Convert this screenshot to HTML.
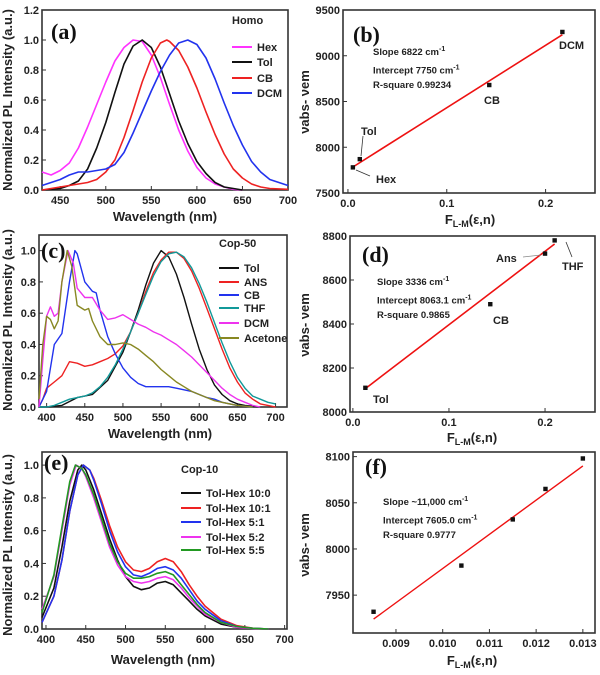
<!DOCTYPE html>
<html><head><meta charset="utf-8">
<style>
html,body{margin:0;padding:0;background:#fff;}
svg{display:block;font-family:"Liberation Sans",sans-serif;}
.t{font-size:11px;font-weight:bold;fill:#222;}
.ti{font-size:13px;font-weight:bold;fill:#222;}
.lg{font-size:11px;font-weight:bold;fill:#222;}
.an{font-size:9.5px;font-weight:bold;fill:#222;}
.pl{font-family:"Liberation Serif",serif;font-size:22px;font-weight:bold;fill:#111;}
</style></head>
<body>
<svg id="fig" width="600" height="675" viewBox="0 0 600 675"></svg>
<script>
// ---------- Panel (a) data ----------
const aSeriesNames = ["Hex","Tol","CB","DCM"];
const aColors = ["#ff33ff","#111111","#ee2222","#2233ee"];
const aHex = [[430,0.12],[440,0.10],[450,0.13],[460,0.18],[470,0.28],[480,0.42],[490,0.57],[500,0.72],[510,0.86],[520,0.95],[530,1.0],[540,0.99],[550,0.90],[560,0.75],[570,0.57],[580,0.40],[590,0.26],[600,0.15],[610,0.08],[620,0.04],[630,0.02],[640,0.005],[650,0]];
const aTol = [[430,0],[440,0.005],[450,0.01],[460,0.03],[470,0.06],[480,0.14],[490,0.28],[500,0.45],[510,0.65],[520,0.84],[530,0.96],[540,1.0],[550,0.95],[560,0.82],[570,0.64],[580,0.46],[590,0.31],[600,0.19],[610,0.11],[620,0.05],[630,0.02],[640,0.01],[650,0]];
const aCB = [[430,0],[440,0.01],[450,0.02],[460,0.03],[470,0.04],[480,0.05],[490,0.07],[500,0.12],[510,0.2],[520,0.35],[530,0.53],[540,0.72],[550,0.88],[560,0.98],[567,1.0],[570,0.99],[580,0.93],[590,0.82],[600,0.68],[610,0.52],[620,0.37],[630,0.24],[640,0.14],[650,0.08],[660,0.04],[670,0.02],[680,0.01],[700,0.005]];
const aDCM = [[430,0.03],[440,0.05],[450,0.07],[460,0.10],[470,0.12],[480,0.12],[490,0.13],[500,0.14],[510,0.17],[520,0.25],[530,0.38],[540,0.52],[550,0.66],[560,0.79],[570,0.90],[580,0.98],[590,1.0],[600,0.97],[610,0.88],[620,0.74],[630,0.58],[640,0.43],[650,0.30],[660,0.19],[670,0.12],[680,0.07],[690,0.05],[700,0.03]];
const aXTicks = [450,500,550,600,650,700];
const aYTicks = [0,0.2,0.4,0.6,0.8,1.0,1.2];

// ---------- Panel (b) data ----------
const bLabels = ["Hex","Tol","CB","DCM"];
const bX = [0.005,0.012,0.143,0.217];
const bY = [7780,7870,8680,9260];
const bFit = [7750,6822]; // intercept, slope
const bXTicks = [0.0,0.1,0.2];
const bYTicks = [7500,8000,8500,9000,9500];

// ---------- Panel (c) data ----------
const cSeriesNames = ["Tol","ANS","CB","THF","DCM","Acetone"];
const cColors = ["#111111","#ee2222","#2233ee","#119999","#ee33ee","#888822"];
const cTol = [[390,0],[400,0],[420,0.01],[440,0.06],[460,0.08],[480,0.17],[500,0.35],[510,0.48],[520,0.62],[530,0.78],[540,0.92],[550,1.0],[560,0.96],[570,0.85],[580,0.7],[590,0.53],[600,0.37],[610,0.24],[620,0.14],[630,0.08],[640,0.04],[650,0.02],[660,0.01],[680,0]];
const cANS = [[390,0],[395,0.05],[400,0.12],[410,0.16],[420,0.2],[430,0.29],[440,0.28],[450,0.26],[460,0.27],[470,0.29],[480,0.31],[490,0.34],[500,0.39],[510,0.48],[520,0.6],[530,0.74],[540,0.86],[550,0.94],[560,0.99],[570,0.99],[580,0.95],[590,0.87],[600,0.76],[610,0.63],[620,0.5],[630,0.37],[640,0.25],[650,0.16],[660,0.09],[670,0.05],[680,0.02],[690,0.01],[700,0]];
const cCB = [[390,0],[400,0.1],[410,0.4],[420,0.47],[430,0.8],[437,1.0],[440,0.98],[450,0.8],[460,0.74],[465,0.73],[470,0.62],[480,0.45],[490,0.34],[500,0.25],[510,0.19],[520,0.15],[530,0.13],[540,0.13],[550,0.13],[560,0.13],[570,0.12],[580,0.11],[590,0.1],[600,0.08],[610,0.06],[620,0.05],[630,0.03],[640,0.02],[650,0.01],[660,0.005],[670,0]];
const cTHF = [[390,0],[400,0],[410,0.01],[420,0.03],[430,0.05],[440,0.06],[450,0.07],[460,0.09],[470,0.13],[480,0.19],[490,0.27],[500,0.37],[510,0.48],[520,0.6],[530,0.72],[540,0.84],[550,0.93],[560,0.98],[570,0.99],[580,0.96],[590,0.89],[600,0.79],[610,0.67],[620,0.54],[630,0.41],[640,0.29],[650,0.19],[660,0.12],[670,0.07],[680,0.05],[690,0.03],[700,0.02]];
const cDCM = [[390,0],[395,0.3],[400,0.58],[405,0.64],[410,0.58],[415,0.6],[420,0.8],[428,1.0],[435,0.92],[440,0.76],[450,0.7],[460,0.7],[470,0.62],[480,0.56],[490,0.57],[500,0.59],[510,0.56],[520,0.53],[530,0.51],[540,0.48],[550,0.46],[560,0.43],[570,0.4],[580,0.36],[590,0.32],[600,0.27],[610,0.22],[620,0.17],[630,0.12],[640,0.08],[650,0.05],[660,0.03],[670,0.01],[680,0]];
const cAcetone = [[390,0.05],[395,0.4],[400,0.58],[405,0.56],[410,0.5],[415,0.55],[420,0.8],[427,1.0],[433,0.9],[440,0.65],[450,0.62],[455,0.63],[460,0.55],[470,0.45],[480,0.4],[490,0.4],[500,0.41],[510,0.4],[520,0.37],[530,0.33],[540,0.29],[550,0.24],[560,0.2],[570,0.16],[580,0.13],[590,0.1],[600,0.08],[610,0.06],[620,0.04],[630,0.03],[640,0.02],[650,0.01],[660,0.005],[670,0]];
const cXTicks = [400,450,500,550,600,650,700];
const cYTicks = [0,0.2,0.4,0.6,0.8,1.0];

// ---------- Panel (d) data ----------
const dLabels = ["Tol","CB","Ans","THF"];
const dX = [0.013,0.143,0.2,0.21];
const dY = [8110,8490,8720,8780];
const dFit = [8063.1,3336];
const dXTicks = [0.0,0.1,0.2];
const dYTicks = [8000,8200,8400,8600,8800];

// ---------- Panel (e) data ----------
const eSeriesNames = ["Tol-Hex 10:0","Tol-Hex 10:1","Tol-Hex  5:1","Tol-Hex  5:2","Tol-Hex  5:5"];
const eColors = ["#111111","#ee2222","#2233ee","#ee33ee","#229922"];
const e100 = [[395,0.07],[410,0.25],[420,0.5],[430,0.78],[440,0.97],[445,1.0],[450,0.97],[460,0.85],[470,0.7],[480,0.55],[490,0.42],[500,0.32],[510,0.26],[520,0.24],[530,0.25],[540,0.28],[550,0.29],[560,0.27],[570,0.22],[580,0.17],[590,0.12],[600,0.08],[620,0.03],[640,0.01],[660,0.003],[680,0]];
const e101 = [[395,0.04],[410,0.2],[420,0.42],[430,0.72],[440,0.94],[447,1.0],[455,0.97],[460,0.92],[470,0.78],[480,0.63],[490,0.5],[500,0.41],[510,0.36],[520,0.35],[530,0.37],[540,0.41],[550,0.43],[560,0.41],[570,0.35],[580,0.27],[590,0.2],[600,0.14],[620,0.06],[640,0.02],[660,0.005],[680,0]];
const e51 = [[395,0.04],[410,0.2],[420,0.42],[430,0.72],[440,0.94],[447,1.0],[455,0.97],[460,0.91],[470,0.76],[480,0.6],[490,0.47],[500,0.38],[510,0.33],[520,0.32],[530,0.34],[540,0.37],[550,0.38],[560,0.36],[570,0.31],[580,0.24],[590,0.17],[600,0.12],[620,0.05],[640,0.015],[660,0.004],[680,0]];
const e52 = [[395,0.12],[410,0.32],[420,0.6],[430,0.88],[438,1.0],[445,0.98],[450,0.93],[460,0.8],[470,0.65],[480,0.5],[490,0.39],[500,0.32],[510,0.29],[520,0.28],[530,0.29],[540,0.31],[550,0.32],[560,0.3],[570,0.25],[580,0.19],[590,0.14],[600,0.09],[620,0.04],[640,0.01],[660,0.003],[680,0]];
const e55 = [[395,0.1],[410,0.33],[420,0.62],[430,0.9],[437,1.0],[445,0.98],[450,0.94],[460,0.82],[470,0.67],[480,0.52],[490,0.41],[500,0.34],[510,0.31],[520,0.31],[530,0.32],[540,0.34],[550,0.35],[560,0.33],[570,0.27],[580,0.21],[590,0.15],[600,0.1],[620,0.04],[640,0.015],[660,0.004],[680,0]];
const eXTicks = [400,450,500,550,600,650,700];
const eYTicks = [0,0.2,0.4,0.6,0.8,1.0];

// ---------- Panel (f) data ----------
const fX = [0.00852,0.0104,0.0115,0.0122,0.0130];
const fY = [7932,7982,8032,8065,8098];
const fFitX = [0.00852,0.0130];
const fFitY = [7924,8090];
const fXTicks = [0.009,0.010,0.011,0.012,0.013];
const fYTicks = [7950,8000,8050,8100];

const NS="http://www.w3.org/2000/svg";
const svg=document.getElementById('fig');
function mk(tag,attrs,parent,text){
  const e=document.createElementNS(NS,tag);
  for(const k in attrs)e.setAttribute(k,attrs[k]);
  if(text!==undefined)e.textContent=text;
  (parent||svg).appendChild(e);return e;
}
function scale(d0,d1,r0,r1){return v=>r0+(v-d0)/(d1-d0)*(r1-r0);}

function axes(P){
  const g=mk('g',{});
  
  
  const X=scale(P.xd[0],P.xd[1],P.L,P.R), Y=scale(P.yd[0],P.yd[1],P.B,P.T);
  const fr=mk('rect',{x:P.L,y:P.T,width:P.R-P.L,height:P.B-P.T,fill:'none',stroke:'#333','stroke-width':1.6},g);
  
  
  P.xt.forEach(v=>{
    const x=X(v);
    mk('line',{x1:x,x2:x,y1:P.B,y2:P.B-4,stroke:'#333','stroke-width':1},g);
    const t=mk('text',{x:x,y:P.B+14,'text-anchor':'middle',class:'t'},g,P.xf(v));
    
    
  });
  P.yt.forEach(v=>{
    const y=Y(v);
    mk('line',{x1:P.L,x2:P.L+4,y1:y,y2:y,stroke:'#333','stroke-width':1},g);
    const t=mk('text',{x:P.L-3,y:y+4,'text-anchor':'end',class:'t'},g,P.yf(v));
    
    
  });
  return {g,X,Y};
}
function curve(A,pts,color,name,w){
  const d=pts.map((p,i)=>(i?'L':'M')+A.X(p[0]).toFixed(1)+','+A.Y(p[1]).toFixed(1)).join('');
  const p=mk('path',{d:d,fill:'none',stroke:color,'stroke-width':w||1.6,'stroke-linejoin':'round'},A.g);
  
  
}
function legend(g,title,x,y0,names,colors,ys){
  const t=mk('text',{x:x,y:y0,class:'lg'},g,title);
  
  
  names.forEach((n,i)=>{
    const y=ys[i];
    mk('line',{x1:x,x2:x+20,y1:y,y2:y,stroke:colors[i],'stroke-width':2},g);
    const tt=mk('text',{x:x+25,y:y+4,class:'lg','xml:space':'preserve'},g,n);
    
    
  });
}
function ytitle(x,cy,txt){
  const t=mk('text',{x:x,y:cy,transform:`rotate(-90 ${x} ${cy})`,'text-anchor':'middle',class:'ti'},svg,txt);
  
  
  return t;
}
function xtitle(cx,y,html){
  const t=mk('text',{x:cx,y:y,'text-anchor':'middle',class:'ti'},svg);
  t.innerHTML=html;
  
  
}
function plabel(x,y,s){
  const t=mk('text',{x:x,y:y,class:'pl'},svg,s);
  
  
}
function note(g,x,ys,lines){
  lines.forEach((l,i)=>{
    const t=mk('text',{x:x,y:ys+i*14.5,class:'an'},g);
    t.innerHTML=l;
    
    
  });
}
function scatter(A,xs,ys,name){
  xs.forEach((v,i)=>{
    const r=mk('rect',{x:A.X(v)-2.2,y:A.Y(ys[i])-2.2,width:4.4,height:4.4,fill:'#111'},A.g);
    
    
  });
}
const f1=v=>v.toFixed(1), f0=v=>String(v);

// Panel a
const A=axes({name:'a',L:42,R:288,T:10,B:190,xd:[430,700],yd:[0,1.2],xt:aXTicks,yt:aYTicks,xf:f0,yf:f1});
[aHex,aTol,aCB,aDCM].forEach((s,i)=>curve(A,s,aColors[i],'curve-'+aSeriesNames[i].toLowerCase()));
legend(A.g,'Homo',232,24,aSeriesNames,aColors,[47,62,78,93]);
ytitle(12,100,'Normalized PL Intensity (a.u.)');
xtitle(165,221,'Wavelength (nm)');
plabel(51,39,'(a)');

// Panel b
const B=axes({name:'b',L:343,R:595,T:10,B:193,xd:[-0.005,0.25],yd:[7500,9500],xt:bXTicks,yt:bYTicks,xf:f1,yf:f0});
curve(B,[[bX[0],bFit[0]+bFit[1]*bX[0]],[bX[3],bFit[0]+bFit[1]*bX[3]]],'#ee1111','fit-line',1.6);
scatter(B,bX,bY,'data-point');
[[bLabels[0],376,183],[bLabels[1],361,135],[bLabels[2],484,104],[bLabels[3],559,49]].forEach(l=>{
  const t=mk('text',{x:l[1],y:l[2],class:'lg'},B.g,l[0]);});
mk('line',{x1:356,y1:170,x2:370,y2:176,stroke:'#333','stroke-width':0.8},B.g);
mk('line',{x1:363,y1:136,x2:361,y2:156,stroke:'#333','stroke-width':0.8},B.g);
note(B.g,373,55,['Slope 6822 cm<tspan font-size="7" dy="-4">-1</tspan>','<tspan dy="4">Intercept 7750 cm</tspan><tspan font-size="7" dy="-4">-1</tspan>','<tspan dy="4">R-square 0.99234</tspan>']);
ytitle(309,102,'νabs- νem');
xtitle(470,224,'F<tspan font-size="9" dy="3">L-M</tspan><tspan dy="-3">(ε,n)</tspan>');
plabel(353,42,'(b)');

// Panel c
const C=axes({name:'c',L:39,R:287,T:235,B:407,xd:[390,715],yd:[0,1.1],xt:cXTicks,yt:cYTicks,xf:f0,yf:f1});
[cTol,cANS,cCB,cTHF,cDCM,cAcetone].forEach((s,i)=>curve(C,s,cColors[i],'curve-'+cSeriesNames[i].toLowerCase(),1.4));
legend(C.g,'Cop-50',219,247,cSeriesNames,cColors,[268,282,295,308,323,338]);
ytitle(12,320,'Normalized PL Intensity (a.u.)');
xtitle(160,438,'Wavelength (nm)');
plabel(41,258,'(c)');

// Panel d
const D=axes({name:'d',L:350,R:595,T:236,B:412,xd:[-0.003,0.252],yd:[8000,8800],xt:dXTicks,yt:dYTicks,xf:f1,yf:f0});
curve(D,[[dX[0],dFit[0]+dFit[1]*dX[0]],[dX[3],dFit[0]+dFit[1]*dX[3]]],'#ee1111','fit-line',1.6);
scatter(D,dX,dY,'data-point');
[[dLabels[0],373,403],[dLabels[1],493,324],[dLabels[2],496,262],[dLabels[3],562,270]].forEach(l=>{
  const t=mk('text',{x:l[1],y:l[2],class:'lg'},D.g,l[0]);});
mk('line',{x1:523,y1:257,x2:541,y2:255,stroke:'#888','stroke-width':0.8},D.g);
mk('line',{x1:566,y1:242,x2:572,y2:257,stroke:'#333','stroke-width':0.8},D.g);
note(D.g,377,285,['Slope 3336 cm<tspan font-size="7" dy="-4">-1</tspan>','<tspan dy="4">Intercept 8063.1 cm</tspan><tspan font-size="7" dy="-4">-1</tspan>','<tspan dy="4">R-square 0.9865</tspan>']);
ytitle(309,325,'νabs- νem');
xtitle(472,442,'F<tspan font-size="9" dy="3">L-M</tspan><tspan dy="-3">(ε,n)</tspan>');
plabel(362,262,'(d)');

// Panel e
const E=axes({name:'e',L:42,R:287,T:452,B:629,xd:[395,703],yd:[0,1.08],xt:eXTicks,yt:eYTicks,xf:f0,yf:f1});
[e100,e101,e51,e52,e55].forEach((s,i)=>curve(E,s,eColors[i],'curve-series-'+(i+1),1.6));
legend(E.g,'Cop-10',181,473,eSeriesNames,eColors,[493,508,522,537,550]);
ytitle(12,545,'Normalized PL Intensity (a.u.)');
xtitle(163,664,'Wavelength (nm)');
plabel(44,470,'(e)');

// Panel f
const F=axes({name:'f',L:353,R:595,T:452,B:633,xd:[0.00808,0.01326],yd:[7909,8105],xt:fXTicks,yt:fYTicks,xf:v=>v.toFixed(3),yf:f0});
curve(F,[[fFitX[0],fFitY[0]],[fFitX[1],fFitY[1]]],'#ee1111','fit-line',1.4);
scatter(F,fX,fY,'data-point');
note(F.g,383,505,['Slope ~11,000 cm<tspan font-size="7" dy="-4">-1</tspan>','<tspan dy="4">Intercept 7605.0 cm</tspan><tspan font-size="7" dy="-4">-1</tspan>','<tspan dy="4">R-square 0.9777</tspan>']);
ytitle(309,545,'νabs- νem');
xtitle(472,665,'F<tspan font-size="9" dy="3">L-M</tspan><tspan dy="-3">(ε,n)</tspan>');
plabel(365,474,'(f)');
</script>
</body></html>
